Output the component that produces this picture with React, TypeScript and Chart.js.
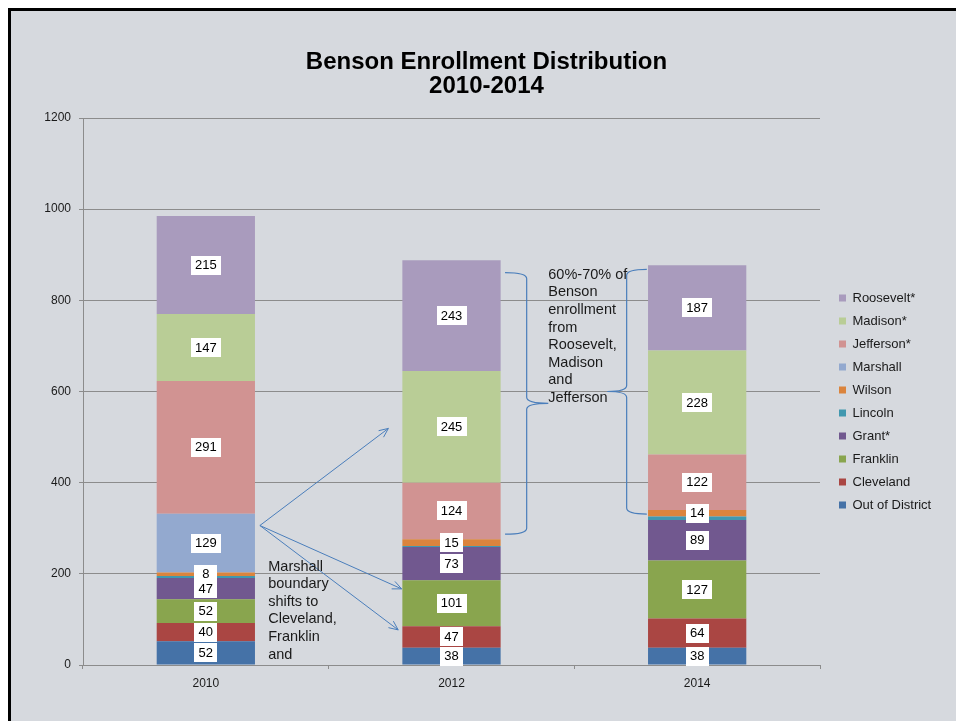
import React, { useEffect, useRef } from 'react';
import { Chart, registerables } from 'chart.js';

Chart.register(...registerables);

// ---------- data ----------
const categories = ['2010', '2012', '2014'];
const outOfDistrict = [52, 38, 38];
const cleveland = [40, 47, 64];
const franklin = [52, 101, 127];
const grant = [47, 73, 89];
const lincoln = [4, 2, 8];
const wilson = [8, 15, 14];
const marshall = [129, 0, 0];
const jefferson = [291, 124, 122];
const madison = [147, 245, 228];
const roosevelt = [215, 243, 187];

const seriesNames = ['Out of District', 'Cleveland', 'Franklin', 'Grant*', 'Lincoln', 'Wilson', 'Marshall', 'Jefferson*', 'Madison*', 'Roosevelt*'];
const seriesValues = [outOfDistrict, cleveland, franklin, grant, lincoln, wilson, marshall, jefferson, madison, roosevelt];
const seriesColors = ['#4572A7', '#AA4643', '#89A54E', '#71588F', '#4198AF', '#DB843D', '#93A9CF', '#D19392', '#B9CD96', '#A99BBD'];
const unlabeledSeries = ['Lincoln'];

const yMin = 0;
const yMax = 1200;
const yStep = 200;

const title = ['Benson Enrollment Distribution', '2010-2014'];
const marshallNote = ['Marshall', 'boundary', 'shifts to', 'Cleveland,', 'Franklin', 'and'];
const bensonNote = ['60%-70% of', 'Benson', 'enrollment', 'from', 'Roosevelt,', 'Madison', 'and', 'Jefferson'];

// annotation anchors in data space (category index, value)
const arrowStart = { x: 0.22, y: 306 };
const arrowEnds = [
  { x: 0.743, y: 519 },
  { x: 0.797, y: 167 },
  { x: 0.783, y: 77 },
];
const braces = [
  { outer: 1.218, inner: 1.306, tip: 1.394, top: 861, mid: 574, bottom: 287 },
  { outer: 1.795, inner: 1.713, tip: 1.634, top: 868, mid: 600, bottom: 331 },
];
const marshallNoteAnchor = { x: 0.254, y: 216 };
const bensonNoteAnchor = { x: 1.394, y: 856 };

// ---------- styles ----------
const FONT = "'Liberation Sans', Arial, Helvetica, sans-serif";
const BG = '#d6d9de';
const GRID = '#8c8c8c';
const TEXT = '#1a1a1a';
const NOTE_LINE = '#4a7ebb';

const dataLabelPlugin = {
  id: 'boxLabels',
  afterDatasetsDraw(chart: any) {
    const ctx = chart.ctx;
    ctx.save();
    ctx.font = `13px ${FONT}`;
    ctx.textAlign = 'center';
    ctx.textBaseline = 'middle';
    chart.data.datasets.forEach((ds: any, di: number) => {
      if (unlabeledSeries.includes(ds.label)) return;
      const meta = chart.getDatasetMeta(di);
      meta.data.forEach((el: any, i: number) => {
        const v = ds.data[i];
        if (!v) return;
        const cx = el.x;
        const cy = (el.y + el.base) / 2;
        const txt = String(v);
        const w = Math.max(ctx.measureText(txt).width + 8, 23);
        const h = 19;
        ctx.fillStyle = '#ffffff';
        ctx.fillRect(Math.round(cx - w / 2), Math.round(cy - h / 2), Math.round(w), h);
        ctx.fillStyle = '#000000';
        ctx.fillText(txt, cx, cy + 0.5);
      });
    });
    ctx.restore();
  },
};

function drawArrow(ctx: CanvasRenderingContext2D, x1: number, y1: number, x2: number, y2: number) {
  ctx.beginPath();
  ctx.moveTo(x1, y1);
  ctx.lineTo(x2, y2);
  const ang = Math.atan2(y2 - y1, x2 - x1);
  const len = 10;
  const spread = 0.42;
  ctx.moveTo(x2 - len * Math.cos(ang - spread), y2 - len * Math.sin(ang - spread));
  ctx.lineTo(x2, y2);
  ctx.lineTo(x2 - len * Math.cos(ang + spread), y2 - len * Math.sin(ang + spread));
  ctx.stroke();
}

function drawBrace(ctx: CanvasRenderingContext2D, xo: number, xi: number, xt: number, yt: number, ym: number, yb: number) {
  const r = 6;
  ctx.beginPath();
  ctx.moveTo(xo, yt);
  ctx.quadraticCurveTo(xi, yt, xi, yt + r);
  ctx.lineTo(xi, ym - r);
  ctx.quadraticCurveTo(xi, ym, xt, ym);
  ctx.moveTo(xt, ym);
  ctx.quadraticCurveTo(xi, ym, xi, ym + r);
  ctx.lineTo(xi, yb - r);
  ctx.quadraticCurveTo(xi, yb, xo, yb);
  ctx.stroke();
}

const notesPlugin = {
  id: 'notes',
  afterDraw(chart: any) {
    const { ctx } = chart;
    const xs = chart.scales.x;
    const ys = chart.scales.y;
    const px = (v: number) => xs.getPixelForValue(v);
    const py = (v: number) => ys.getPixelForValue(v);
    ctx.save();
    ctx.strokeStyle = NOTE_LINE;
    ctx.lineWidth = 1;
    const sx = px(arrowStart.x);
    const sy = py(arrowStart.y);
    arrowEnds.forEach((e) => drawArrow(ctx, sx, sy, px(e.x), py(e.y)));
    ctx.lineWidth = 1.2;
    braces.forEach((b) => drawBrace(ctx, px(b.outer), px(b.inner), px(b.tip), py(b.top), py(b.mid), py(b.bottom)));

    ctx.fillStyle = TEXT;
    ctx.font = `14.5px ${FONT}`;
    ctx.textAlign = 'left';
    ctx.textBaseline = 'middle';
    const lh = 17.6;
    marshallNote.forEach((t, i) => ctx.fillText(t, px(marshallNoteAnchor.x), py(marshallNoteAnchor.y) + i * lh));
    bensonNote.forEach((t, i) => ctx.fillText(t, px(bensonNoteAnchor.x), py(bensonNoteAnchor.y) + i * lh));
    ctx.restore();
  },
};

const legendPlacePlugin = {
  id: 'legendPlace',
  beforeLayout(chart: any) {
    const lg = chart.legend;
    if (lg && !lg.__patched) {
      const orig = lg.fit;
      lg.fit = function () {
        orig.call(this);
        this.width = 112;
      };
      lg.__patched = true;
    }
  },
  afterLayout(chart: any) {
    const lg = chart.legend;
    if (lg) {
      lg.left += 9;
      lg.right += 9;
      lg.top += 10;
      lg.bottom += 10;
    }
    const tb = chart.titleBlock;
    if (tb) {
      tb.left += 4;
      tb.right += 4;
    }
  },
};

export default function App() {
  const ref = useRef<HTMLCanvasElement>(null);
  useEffect(() => {
    document.documentElement.style.overflow = 'hidden';
    document.body.style.margin = '8px 0 0 8px';
    const canvas = ref.current;
    if (!canvas) return;
    const chart = new Chart(canvas, {
      type: 'bar',
      data: {
        labels: categories,
        datasets: seriesNames.map((name, i) => ({
          label: name,
          data: seriesValues[i],
          backgroundColor: seriesColors[i],
          borderWidth: 0,
          categoryPercentage: 1,
          barPercentage: 0.4,
        })),
      },
      options: {
        responsive: false,
        animation: false,
        layout: { padding: { left: 22, right: 24, top: 0, bottom: 26 } },
        scales: {
          x: {
            stacked: true,
            offset: true,
            afterFit: (s: any) => { s.height = 30; },
            grid: { display: true, drawOnChartArea: false, drawTicks: true, tickLength: 4, color: GRID, offset: true },
            border: { display: true, color: GRID, width: 1 },
            ticks: { color: TEXT, font: { family: FONT, size: 12 }, padding: 7 },
          },
          y: {
            stacked: true,
            min: yMin,
            max: yMax,
            afterFit: (s: any) => { s.width = 50; },
            grid: { display: true, drawOnChartArea: true, drawTicks: true, tickLength: 4, color: GRID, lineWidth: 1 },
            border: { display: true, color: GRID, width: 1 },
            ticks: {
              stepSize: yStep,
              color: TEXT,
              font: { family: FONT, size: 12 },
              padding: 8,
              callback: (v: any) => String(v),
            },
          },
        },
        plugins: {
          title: {
            display: true,
            text: title,
            color: '#000',
            font: { family: FONT, size: 24, weight: 'bold', lineHeight: 1 },
            padding: { top: 39, bottom: 20 },
          },
          legend: {
            display: true,
            position: 'right',
            fullSize: false,
            reverse: true,
            labels: {
              boxWidth: 7,
              boxHeight: 7,
              padding: 10,
              color: TEXT,
              font: { family: FONT, size: 13 },
            },
          },
          tooltip: { enabled: false },
        },
      } as any,
      plugins: [dataLabelPlugin, notesPlugin, legendPlacePlugin],
    });
    return () => chart.destroy();
  }, []);

  return (
    <div
      style={{
        borderTop: '3px solid #000',
        borderLeft: '3px solid #000',
        background: BG,
        width: 945,
        height: 710,
      }}
    >
      <canvas ref={ref} width={945} height={710} style={{ display: 'block' }} />
    </div>
  );
}
